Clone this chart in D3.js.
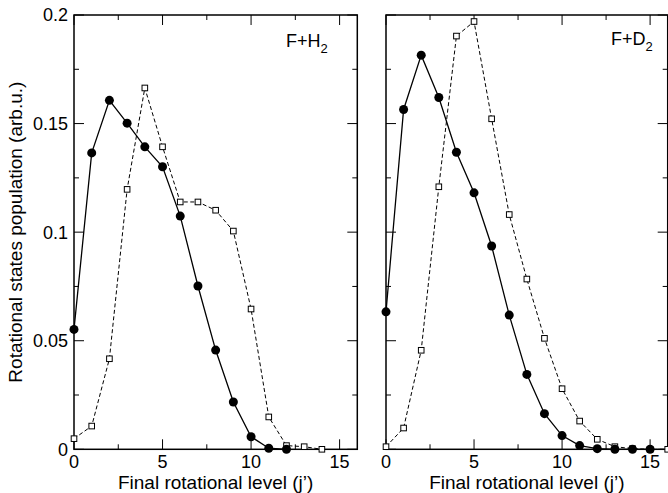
<!DOCTYPE html>
<html>
<head>
<meta charset="utf-8">
<script src="https://cdn.jsdelivr.net/npm/d3@7"></script>
<style>
    body { margin: 0; background: #fff; }
    svg { display: block; font-family: "Liberation Sans", Arial, sans-serif; }
    .frame { fill: none; stroke: #000; stroke-width: 1.5; }
    .tick { stroke: #000; stroke-width: 1; }
</style>
</head>
<body>
<svg width="668" height="493"></svg>
<script>
// Final rotational level j'
const levels = d3.range(0, 17);

// F+H2 panel
const h2Circles = [0.0552, 0.1365, 0.1607, 0.1502, 0.1393, 0.1301, 0.1074, 0.0752, 0.0457,
                   0.0218, 0.0058, 0.0005, 0.0];
const h2Squares = [0.0049, 0.0107, 0.0417, 0.1197, 0.1664, 0.1393, 0.1139, 0.1139, 0.1101,
                   0.1005, 0.0646, 0.0149, 0.0017, 0.0012, 0.0];

// F+D2 panel
const d2Circles = [0.0633, 0.1565, 0.1815, 0.1620, 0.1368, 0.1181, 0.0936, 0.0618, 0.0345,
                   0.0164, 0.0063, 0.0017, 0.0003, 0.0, 0.0, 0.0];
const d2Squares = [0.0012, 0.0098, 0.0456, 0.1209, 0.1903, 0.1970, 0.1522, 0.1081, 0.0784,
                   0.0511, 0.0279, 0.0130, 0.0046, 0.0012, 0.0003, 0.0, 0.0];

const yTickLabels = ["0", "0.05", "0.1", "0.15", "0.2"];
const xTickLabels = ["0", "5", "10", "15"];

const svg = d3.select("svg");

const plotTop = 15, plotBottom = 449.3;
const panels = [
    { name: "H", left: 74, right: 357.3, circles: h2Circles, squares: h2Squares, labelX: 286, labelY: 46.5, showY: true },
    { name: "D", left: 386, right: 667.7, circles: d2Circles, squares: d2Squares, labelX: 611, labelY: 44.5, showY: false }
];

const y = d3.scaleLinear().domain([0, 0.2]).range([plotBottom, plotTop]);

panels.forEach(p => {
    const x = d3.scaleLinear().domain([0, 16]).range([p.left, p.right]);
    const g = svg.append("g");

    // ticks on all four sides, pointing inward
    const xMajor = d3.range(0, 16.01, 5), xMinor = d3.range(2.5, 16, 5);
    const yMajor = d3.range(0, 0.201, 0.05), yMinor = d3.range(0.025, 0.2, 0.05);
    const tickData = [];
    xMajor.forEach(v => tickData.push({ x: x(v), len: 10, dir: "x" }));
    xMinor.forEach(v => tickData.push({ x: x(v), len: 5, dir: "x" }));
    yMajor.forEach(v => tickData.push({ y: y(v), len: 10, dir: "y" }));
    yMinor.forEach(v => tickData.push({ y: y(v), len: 5, dir: "y" }));

    tickData.forEach(t => {
        if (t.dir === "x") {
            g.append("line").attr("class", "tick")
                .attr("x1", t.x).attr("x2", t.x).attr("y1", plotBottom).attr("y2", plotBottom - t.len);
            g.append("line").attr("class", "tick")
                .attr("x1", t.x).attr("x2", t.x).attr("y1", plotTop).attr("y2", plotTop + t.len);
        } else {
            g.append("line").attr("class", "tick")
                .attr("y1", t.y).attr("y2", t.y).attr("x1", p.left).attr("x2", p.left + t.len);
            g.append("line").attr("class", "tick")
                .attr("y1", t.y).attr("y2", t.y).attr("x1", p.right).attr("x2", p.right - t.len);
        }
    });

    g.append("rect").attr("class", "frame")
        .attr("x", p.left).attr("y", plotTop)
        .attr("width", p.right - p.left).attr("height", plotBottom - plotTop);

    // x tick labels
    g.selectAll(".xlab")
        .data(xTickLabels)
        .enter().append("text")
        .attr("x", d => x(+d))
        .attr("y", 467.5)
        .attr("text-anchor", "middle")
        .attr("font-size", 18)
        .text(d => d);

    if (p.showY) {
        g.selectAll(".ylab")
            .data(yTickLabels)
            .enter().append("text")
            .attr("x", 68)
            .attr("y", d => y(+d))
            .attr("dy", "0.36em")
            .attr("text-anchor", "end")
            .attr("font-size", 18)
            .text(d => d);
    }

    g.append("text")
        .attr("x", (p.left + p.right) / 2)
        .attr("y", 489)
        .attr("text-anchor", "middle")
        .attr("font-size", 19)
        .text("Final rotational level (j\u2019)");

    // dashed line with open squares
    const line = d3.line().x((d, i) => x(levels[i])).y(d => y(d));
    g.append("path")
        .datum(p.squares)
        .attr("d", line)
        .attr("fill", "none")
        .attr("stroke", "#000")
        .attr("stroke-width", 1)
        .attr("stroke-dasharray", "4,2.5");
    g.selectAll(".sq")
        .data(p.squares)
        .enter().append("rect")
        .attr("x", (d, i) => x(levels[i]) - 2.8)
        .attr("y", d => y(d) - 2.8)
        .attr("width", 5.6).attr("height", 5.6)
        .attr("fill", "#fff")
        .attr("stroke", "#000")
        .attr("stroke-width", 1);

    // solid line with filled circles
    g.append("path")
        .datum(p.circles)
        .attr("d", line)
        .attr("fill", "none")
        .attr("stroke", "#000")
        .attr("stroke-width", 1.3);
    g.selectAll(".dot")
        .data(p.circles)
        .enter().append("circle")
        .attr("cx", (d, i) => x(levels[i]))
        .attr("cy", d => y(d))
        .attr("r", 4.5)
        .attr("fill", "#000");

    // panel label
    const lab = g.append("text")
        .attr("x", p.labelX).attr("y", p.labelY)
        .attr("font-size", 18);
    lab.append("tspan").text("F+" + p.name);
    lab.append("tspan").attr("dy", 6).attr("font-size", 13).text("2");
});

svg.append("text")
    .attr("transform", `translate(22, ${(plotTop + plotBottom) / 2}) rotate(-90)`)
    .attr("text-anchor", "middle")
    .attr("font-size", 19)
    .text("Rotational states population (arb.u.)");
</script>
</body>
</html>
